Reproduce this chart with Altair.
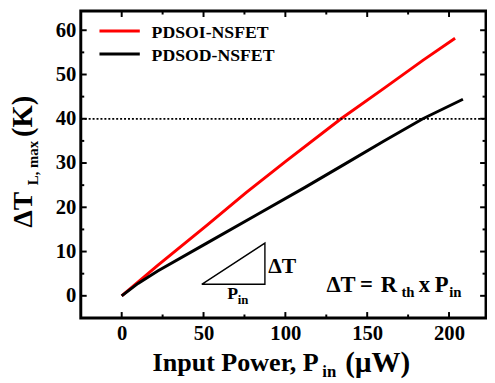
import altair as alt
import pandas as pd

# ---- data ----
series = ["PDSOI-NSFET", "PDSOD-NSFET"]
soi_x = [0, 22, 52, 76, 100, 134, 160, 184, 203.7]
soi_y = [0, 6.9, 15.9, 23.3, 30.3, 40.0, 46.8, 53.2, 58.2]
sod_x = [0, 10, 22, 52, 82, 112, 136, 160, 184, 208.5]
sod_y = [0, 2.8, 5.6, 11.9, 18.2, 24.5, 29.7, 34.9, 40.0, 44.4]
limit_y = [40]
tri_x = [48.9, 87.5, 87.5, 48.9]
tri_y = [2.6, 2.6, 11.9, 2.6]
x_major = [0, 50, 100, 150, 200]
x_minor = [25, 75, 125, 175]
y_major = [0, 10, 20, 30, 40, 50, 60]
y_minor = [5, 15, 25, 35, 45, 55]
colors = ["#ff0000", "#000000"]

W, H = 412, 312
FONT = "Liberation Serif"

xs = alt.Scale(domain=[-25, 222.6], nice=False, zero=False)
ys = alt.Scale(domain=[-5, 64.33], nice=False, zero=False)


def xaxis():
    return alt.Axis(values=x_major, title=None, labelPadding=5, labelFont=FONT,
                    labelFontWeight="bold", labelFontSize=21, labelColor="black",
                    ticks=False, domain=False, grid=False)


def yaxis():
    return alt.Axis(values=y_major, title=None, labelPadding=5, labelFont=FONT,
                    labelFontWeight="bold", labelFontSize=21, labelColor="black",
                    ticks=False, domain=False, grid=False)


df = pd.DataFrame({
    "x": soi_x + sod_x,
    "y": soi_y + sod_y,
    "series": [series[0]] * len(soi_x) + [series[1]] * len(sod_x),
})

lines = alt.Chart(df).mark_line(strokeWidth=3).encode(
    x=alt.X("x:Q", scale=xs, axis=xaxis()),
    y=alt.Y("y:Q", scale=ys, axis=yaxis()),
    color=alt.Color("series:N", scale=alt.Scale(domain=series, range=colors), legend=None),
    detail="series:N",
)

dotted = alt.Chart(pd.DataFrame({"x": [-25, 222.6], "y": limit_y * 2})).mark_line(
    color="black", strokeWidth=1.8, strokeDash=[2, 2]
).encode(x=alt.X("x:Q", scale=xs, axis=xaxis()), y=alt.Y("y:Q", scale=ys, axis=yaxis()))

tri = alt.Chart(pd.DataFrame({"x": tri_x, "y": tri_y, "o": list(range(len(tri_x)))})).mark_line(
    color="black", strokeWidth=1.4
).encode(
    x=alt.X("x:Q", scale=xs, axis=xaxis()),
    y=alt.Y("y:Q", scale=ys, axis=yaxis()),
    order="o:Q",
)


def xticks(vals, length, top):
    y0 = 0 if top else H
    y1 = length if top else H - length
    return alt.Chart(pd.DataFrame({"x": vals})).mark_rule(color="black", strokeWidth=2).encode(
        x=alt.X("x:Q", scale=xs, axis=xaxis()), y=alt.value(y0), y2=alt.value(y1)
    )


def yticks(vals, length, right):
    x0 = W if right else 0
    x1 = W - length if right else length
    return alt.Chart(pd.DataFrame({"y": vals})).mark_rule(color="black", strokeWidth=2).encode(
        y=alt.Y("y:Q", scale=ys, axis=yaxis()), x=alt.value(x0), x2=alt.value(x1)
    )


ticks = [
    xticks(x_major, 6, False), xticks(x_minor, 3.5, False),
    xticks(x_major, 6, True), xticks(x_minor, 3.5, True),
    yticks(y_major, 6, False), yticks(y_minor, 3.5, False),
    yticks(y_major, 6, True), yticks(y_minor, 3.5, True),
]


def label(txt, x, y, size, angle=0):
    return alt.Chart(alt.Data(values=[{"t": txt}])).mark_text(
        font=FONT, fontWeight="bold", fontSize=size, align="left",
        baseline="alphabetic", angle=angle, color="black",
    ).encode(x=alt.value(x), y=alt.value(y), text="t:N")


def legend_line(color, y):
    return alt.Chart(alt.Data(values=[{"a": 1}])).mark_rule(color=color, strokeWidth=3).encode(
        x=alt.value(19), x2=alt.value(60), y=alt.value(y)
    )


texts = [
    # y title
    label("ΔT", -50, 220, 28, angle=270),
    label("L, max", -43, 177, 15, angle=270),
    label("(K)", -50, 128, 29, angle=270),
    # x title
    label("Input Power, P", 73, 366, 26.5),
    label("in", 245.5, 372, 17),
    label("(μW)", 269, 366.5, 29.5),
    # legend
    legend_line(colors[0], 20.3),
    legend_line(colors[1], 43.7),
    label(series[0], 72, 27, 18),
    label(series[1], 72, 50.5, 18),
    # triangle annotation
    label("ΔT", 190.5, 266.3, 22),
    label("P", 149, 293, 18),
    label("in", 159.5, 298, 13),
    # equation
    label("ΔT", 249.7, 285.3, 23),
    label("=", 284, 285.3, 23),
    label("R", 305, 285.3, 23),
    label("th", 326, 290.3, 15),
    label("x", 343.5, 285.3, 23),
    label("P", 360, 285.3, 23),
    label("in", 374.5, 290.3, 15),
]

chart = alt.layer(lines, dotted, tri, *ticks, *texts).properties(
    width=W, height=H,
    autosize=alt.AutoSizeParams(type="none"),
    padding={"left": 74, "top": 0, "right": 1, "bottom": 62},
).configure_view(
    stroke="black", strokeWidth=3
)

chart.save("out.html", embed_options={"renderer": "svg", "actions": False})
